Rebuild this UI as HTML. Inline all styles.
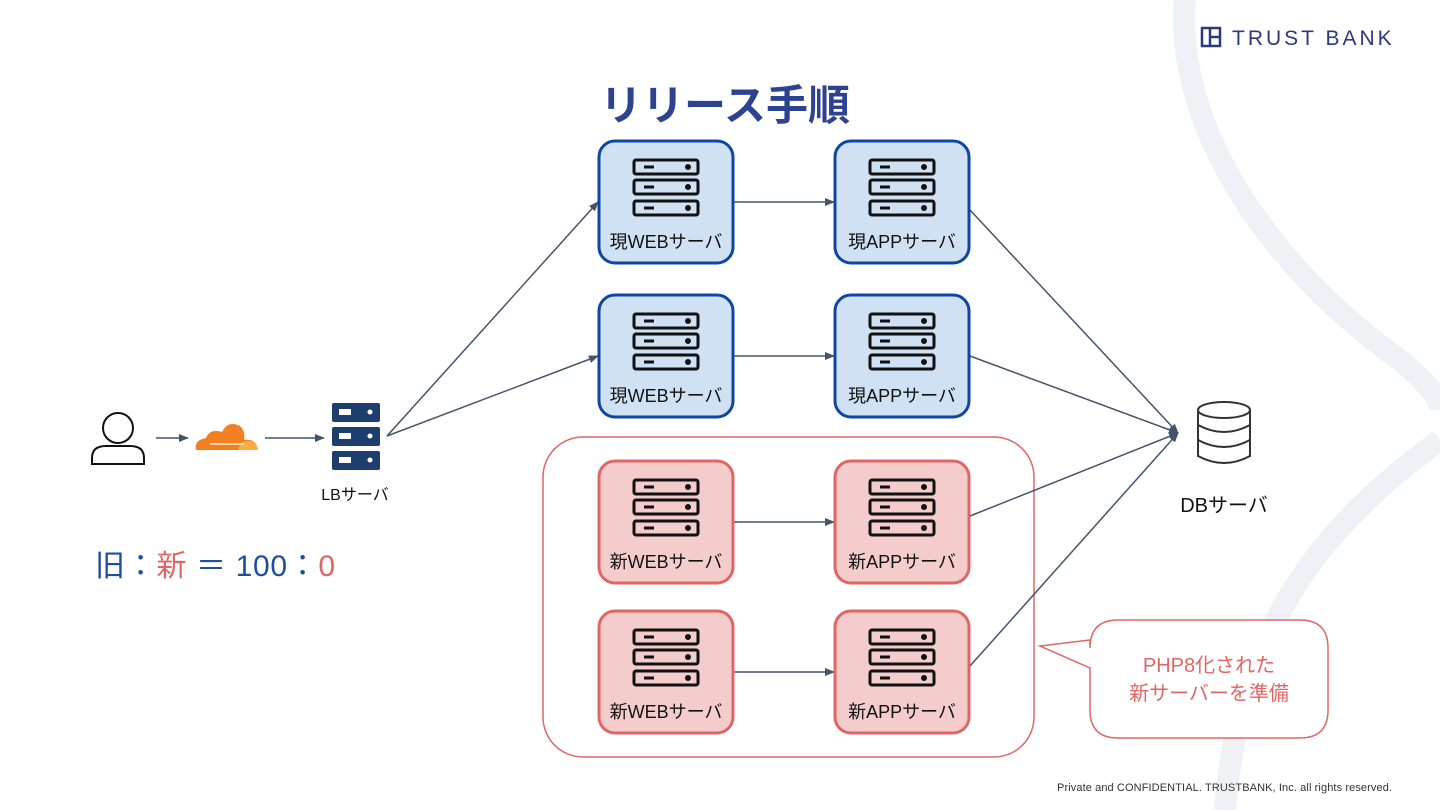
<!DOCTYPE html>
<html><head><meta charset="utf-8"><style>
body{margin:0;width:1440px;height:810px;background:#fff;overflow:hidden;font-family:"Liberation Sans","Noto Sans CJK JP",sans-serif}
</style></head><body>
<svg width="1440" height="810" viewBox="0 0 1440 810" xmlns="http://www.w3.org/2000/svg" style="position:absolute;left:0;top:0">
<defs>
<marker id="ar" markerWidth="10" markerHeight="8" refX="9" refY="4" orient="auto" markerUnits="userSpaceOnUse"><path d="M0,0 L10,4 L0,8 Z" fill="#44546a"/></marker>
<g id="srv" fill="none" stroke="#111" stroke-width="3">
<rect x="-32" y="-27" width="64" height="14" rx="2"/>
<rect x="-32" y="-7" width="64" height="14" rx="2"/>
<rect x="-32" y="14" width="64" height="14" rx="2"/>
<line x1="-22" y1="-20" x2="-12" y2="-20"/><line x1="-22" y1="0" x2="-12" y2="0"/><line x1="-22" y1="21" x2="-12" y2="21"/>
<circle cx="22" cy="-20" r="1.5" fill="#111"/><circle cx="22" cy="0" r="1.5" fill="#111"/><circle cx="22" cy="21" r="1.5" fill="#111"/>
</g>
</defs>
<path d="M1185,0 C1175,120 1260,260 1400,360 C1430,385 1440,400 1440,410" fill="none" stroke="#f0f1f6" stroke-width="22"/>
<path d="M1440,440 C1330,520 1240,620 1225,810" fill="none" stroke="#f0f1f6" stroke-width="22"/>
<rect x="1202" y="28" width="18" height="18" fill="none" stroke="#2a3a7a" stroke-width="2.5"/>
<line x1="1210" y1="28" x2="1210" y2="46" stroke="#2a3a7a" stroke-width="2.5"/>
<line x1="1210" y1="37" x2="1220" y2="37" stroke="#2a3a7a" stroke-width="2.5"/>
<text x="1232" y="45" font-size="21" fill="#2a3a7a" letter-spacing="3">TRUST BANK</text>
<text x="600" y="120" font-size="42" font-weight="bold" fill="#2e4390" textLength="250" lengthAdjust="spacingAndGlyphs">リリース手順</text>
<rect x="543" y="437" width="491" height="320" rx="40" fill="none" stroke="#e06666" stroke-width="1.5"/>
<path d="M1125,620 H1300 Q1328,620 1328,648 V710 Q1328,738 1300,738 H1118 Q1090,738 1090,710 V668 L1040,646 L1090,640 V648 Q1090,620 1118,620 Z" fill="#fff" stroke="#e06666" stroke-width="1.5"/>
<text x="1209" y="672" font-size="20" fill="#e06666" text-anchor="middle">PHP8化された</text>
<text x="1209" y="700" font-size="20" fill="#e06666" text-anchor="middle">新サーバーを準備</text>
<g stroke="#44546a" stroke-width="1.5" fill="none" marker-end="url(#ar)">
<line x1="156" y1="438" x2="188" y2="438"/>
<line x1="265" y1="438" x2="324" y2="438"/>
<line x1="387" y1="436" x2="598" y2="202"/>
<line x1="387" y1="436" x2="598" y2="356"/>
<line x1="734" y1="202" x2="834" y2="202"/>
<line x1="734" y1="356" x2="834" y2="356"/>
<line x1="734" y1="522" x2="834" y2="522"/>
<line x1="734" y1="672" x2="834" y2="672"/>
<line x1="970" y1="210" x2="1178" y2="433"/>
<line x1="970" y1="356" x2="1178" y2="433"/>
<line x1="970" y1="516" x2="1178" y2="433"/>
<line x1="970" y1="666" x2="1178" y2="433"/>
</g>
<g stroke-width="3">
<rect x="599" y="141" width="134" height="122" rx="16" fill="#cfe1f3" stroke="#0d47a1"/>
<rect x="835" y="141" width="134" height="122" rx="16" fill="#cfe1f3" stroke="#0d47a1"/>
<rect x="599" y="295" width="134" height="122" rx="16" fill="#cfe1f3" stroke="#0d47a1"/>
<rect x="835" y="295" width="134" height="122" rx="16" fill="#cfe1f3" stroke="#0d47a1"/>
<rect x="599" y="461" width="134" height="122" rx="16" fill="#f4cccc" stroke="#e06666"/>
<rect x="835" y="461" width="134" height="122" rx="16" fill="#f4cccc" stroke="#e06666"/>
<rect x="599" y="611" width="134" height="122" rx="16" fill="#f4cccc" stroke="#e06666"/>
<rect x="835" y="611" width="134" height="122" rx="16" fill="#f4cccc" stroke="#e06666"/>
</g>
<use href="#srv" x="666" y="187"/><use href="#srv" x="902" y="187"/>
<use href="#srv" x="666" y="341"/><use href="#srv" x="902" y="341"/>
<use href="#srv" x="666" y="507"/><use href="#srv" x="902" y="507"/>
<use href="#srv" x="666" y="657"/><use href="#srv" x="902" y="657"/>
<g font-size="18" fill="#111" text-anchor="middle">
<text x="666" y="248">現WEBサーバ</text><text x="902" y="248">現APPサーバ</text>
<text x="666" y="402">現WEBサーバ</text><text x="902" y="402">現APPサーバ</text>
<text x="666" y="568">新WEBサーバ</text><text x="902" y="568">新APPサーバ</text>
<text x="666" y="718">新WEBサーバ</text><text x="902" y="718">新APPサーバ</text>
</g>
<circle cx="118" cy="428" r="15" fill="none" stroke="#111" stroke-width="2"/>
<path d="M92,464 V458 Q92,446 106,446 H130 Q144,446 144,458 V464 Z" fill="none" stroke="#111" stroke-width="2"/>
<path d="M196,450 Q194,440 206,438 Q210,428 222,432 Q228,420 240,426 Q246,432 244,440 Q256,438 258,450 Z" fill="#f38020"/>
<path d="M238,450 Q240,440 250,441 Q258,443 258,450 Z" fill="#fbad41"/>
<line x1="210" y1="444" x2="244" y2="444" stroke="#fff" stroke-width="1.2"/>
<g fill="#1e3f6e">
<rect x="332" y="403" width="48" height="19" rx="2"/>
<rect x="332" y="427" width="48" height="19" rx="2"/>
<rect x="332" y="451" width="48" height="19" rx="2"/>
</g>
<g fill="#fff">
<rect x="339" y="409" width="12" height="6"/><circle cx="370" cy="412" r="2.5"/>
<rect x="339" y="433" width="12" height="6"/><circle cx="370" cy="436" r="2.5"/>
<rect x="339" y="457" width="12" height="6"/><circle cx="370" cy="460" r="2.5"/>
</g>
<text x="355" y="500" font-size="16" fill="#111" text-anchor="middle">LBサーバ</text>
<g fill="none" stroke="#333" stroke-width="2">
<ellipse cx="1224" cy="410" rx="26" ry="8"/>
<path d="M1198,410 V456 Q1224,470 1250,456 V410"/>
<path d="M1198,425 Q1224,439 1250,425"/>
<path d="M1198,440 Q1224,454 1250,440"/>
</g>
<text x="1224" y="512" font-size="20" fill="#111" text-anchor="middle">DBサーバ</text>
<text x="95" y="576" font-size="30" textLength="240" lengthAdjust="spacing"><tspan fill="#1f4e9e">旧：</tspan><tspan fill="#e06666">新</tspan><tspan fill="#1f4e9e"> ＝ 100：</tspan><tspan fill="#e06666">0</tspan></text>
<text x="1392" y="791" font-size="11" fill="#333" text-anchor="end" textLength="335" lengthAdjust="spacing">Private and  CONFIDENTIAL. TRUSTBANK, Inc. all rights reserved.</text>
</svg>
</body></html>
